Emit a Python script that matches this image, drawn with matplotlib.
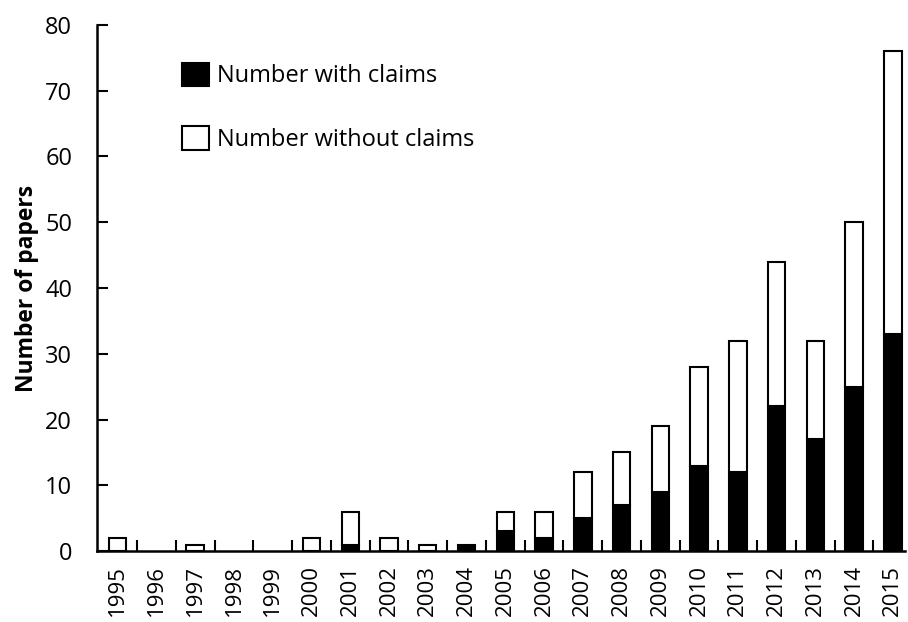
import numpy as np
import matplotlib
matplotlib.use("Agg")
import matplotlib.pyplot as plt

plt.rcParams['font.family'] = ['Open Sans', 'DejaVu Sans']

years = ['1995', '1996', '1997', '1998', '1999', '2000', '2001', '2002', '2003',
         '2004', '2005', '2006', '2007', '2008', '2009', '2010', '2011', '2012',
         '2013', '2014', '2015']
totals = [2, 0, 1, 0, 0, 2, 6, 2, 1, 1, 6, 6, 12, 15, 19, 28, 32, 44, 32, 50, 76]
with_claims = [0, 0, 0, 0, 0, 0, 1, 0, 0, 1, 3, 2, 5, 7, 9, 13, 12, 22, 17, 25, 33]

x = np.arange(len(years))
tot = np.array(totals)
wc = np.array(with_claims)
woc = tot - wc

fig = plt.figure(figsize=(9.08, 6.22), dpi=100)
ax = fig.add_axes([0.107, 0.114, 0.89, 0.846])

w = 0.45
# skip empty segments so zero years show no mark
m1 = wc > 0
m2 = woc > 0
ax.bar(x[m1], wc[m1], width=w, color='black', edgecolor='black', linewidth=1.5,
       label='Number with claims')
ax.bar(x[m2], woc[m2], width=w, bottom=wc[m2], color='white',
       edgecolor='black', linewidth=1.5, label='Number without claims')

ax.set_xlim(-0.53, 20.32)
ax.set_ylim(0, 80)
ax.set_yticks(range(0, 81, 10))
ax.set_xticks(x)
ax.set_xticklabels(years, rotation=90, fontsize=16)
ax.set_xticks(np.arange(0.5, 20, 1), minor=True)
ax.tick_params(axis='x', which='major', length=0, pad=10)
ax.tick_params(axis='x', which='minor', direction='in', length=8, width=1.5)
ax.tick_params(axis='y', direction='in', length=8, width=1.5, labelsize=17, pad=18)

for side in ['top', 'right']:
    ax.spines[side].set_visible(False)
for side in ['left', 'bottom']:
    ax.spines[side].set_linewidth(1.8)

ax.set_ylabel('Number of papers', fontsize=16.5, fontweight='bold', labelpad=4)

ax.legend(loc='upper left', bbox_to_anchor=(0.105, 0.928), frameon=False,
          fontsize=17, handlelength=1.15, handleheight=1.15, labelspacing=1.6,
          handletextpad=0.35, borderpad=0, borderaxespad=0)

fig.savefig('out.png', dpi=100)
